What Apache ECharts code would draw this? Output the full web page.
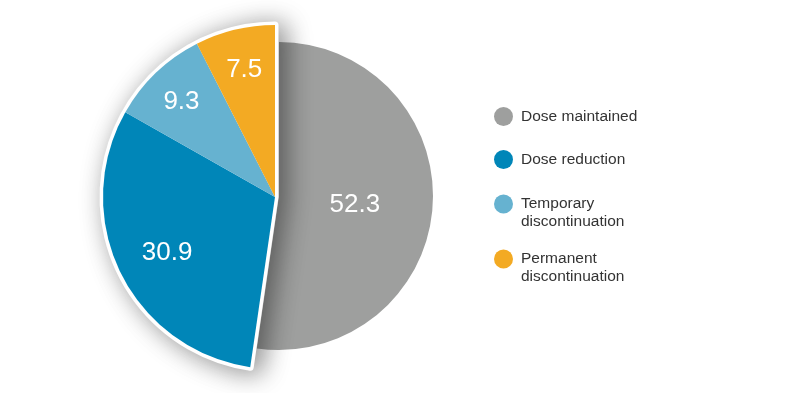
<!DOCTYPE html>
<html>
<head>
<meta charset="utf-8">
<script src="https://cdn.jsdelivr.net/npm/echarts@6/dist/echarts.min.js"></script>
<style>
html,body{margin:0;padding:0;background:#fff;}
#c{width:786px;height:393px;}
</style>
</head>
<body>
<div id="c"></div>
<script>
const categories = ['Dose maintained', 'Dose reduction', 'Temporary discontinuation', 'Permanent discontinuation'];
const values = [52.3, 30.9, 9.3, 7.5];
const colors = ['#9e9f9e', '#0086b8', '#66b2d0', '#f3aa23'];
const legendLabels = ['Dose maintained', 'Dose reduction', 'Temporary\ndiscontinuation', 'Permanent\ndiscontinuation'];

const chart = echarts.init(document.getElementById('c'), null, {renderer: 'canvas'});

const groupTotal = values.slice(1).reduce((a, b) => a + b, 0);
const TRANSPARENT = 'rgba(0,0,0,0)';
const labelOffsets = [[-4, 3], [-28, 17], [-32, -31], [-10, -41]];
const labelFont = {color: '#fff', fontSize: 26, fontFamily: 'Liberation Sans, Arial, sans-serif'};

// gray slice alone
const graySeries = {
  type: 'pie', silent: true, animation: false,
  center: [279, 196], radius: [0, 154],
  startAngle: 90, clockwise: true,
  label: Object.assign({show: true, position: 'inside', formatter: '{c}'}, labelFont),
  labelLine: {show: false},
  data: [
    {name: categories[0], value: values[0], itemStyle: {color: colors[0]}, label: {offset: labelOffsets[0]}},
    {name: '_rest', value: groupTotal, itemStyle: {color: TRANSPARENT}, label: {show: false}}
  ]
};

// white backdrop with shadow for the group
const backdropSeries = {
  type: 'pie', silent: true, animation: false,
  center: [275, 197], radius: [0, 172],
  startAngle: 90, clockwise: true,
  label: {show: false}, labelLine: {show: false},
  data: [
    {name: '_g', value: values[0], itemStyle: {color: TRANSPARENT, borderWidth: 0}},
    {name: '_w', value: groupTotal, itemStyle: {color: '#fff', borderColor: '#fff', borderWidth: 7,
      shadowBlur: 26, shadowColor: 'rgba(0,0,0,0.42)', shadowOffsetX: 7, shadowOffsetY: 3}}
  ]
};

// coloured group slices
const groupData = [{name: '_g2', value: values[0], itemStyle: {color: TRANSPARENT}, label: {show: false}}];
for (let i = 1; i < values.length; i++) {
  groupData.push({name: categories[i], value: values[i], itemStyle: {color: colors[i]},
    label: {offset: labelOffsets[i]}});
}
const groupSeries = {
  type: 'pie', silent: true, animation: false,
  center: [275, 197], radius: [0, 172],
  startAngle: 90, clockwise: true,
  label: Object.assign({show: true, position: 'inside', formatter: '{c}'}, labelFont),
  labelLine: {show: false},
  data: groupData
};

const legendTops = [107, 150, 177, 232];
const legends = categories.map((name, i) => {
  const twoLine = legendLabels[i].indexOf('\n') >= 0;
  // a blank first line keeps the marker level with the first text line
  const txt = twoLine ? ' \n' + legendLabels[i] : legendLabels[i];
  return {
    orient: 'vertical', left: 494, top: legendTops[i],
    itemWidth: 25, itemHeight: 19, icon: 'circle', selectedMode: false,
    padding: 0,
    data: [{name: name, icon: 'circle', itemStyle: {color: colors[i]}}],
    formatter: () => txt,
    textStyle: {color: '#333', fontSize: 15.5, lineHeight: 18, fontFamily: 'Liberation Sans, Arial, sans-serif'}
  };
});

chart.setOption({
  animation: false,
  backgroundColor: '#fff',
  color: colors,
  legend: legends,
  series: [graySeries, backdropSeries, groupSeries]
});
</script>
</body>
</html>
